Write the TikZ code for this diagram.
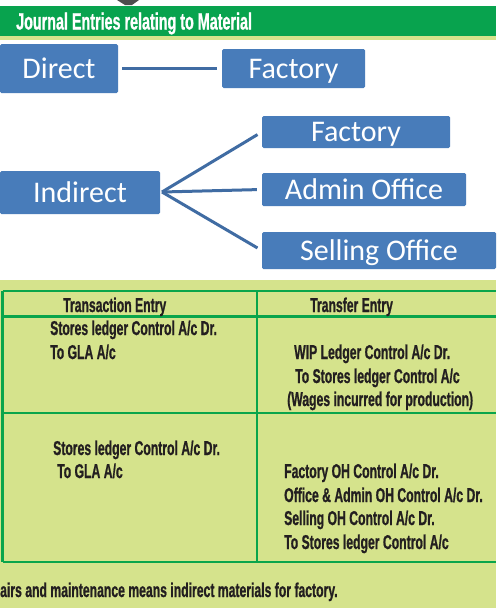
\documentclass[tikz,border=0pt]{standalone}
\usepackage{fontspec}
\newfontfamily\condfont[FakeStretch=0.61,FakeBold=0.8]{Liberation Sans}
\newfontfamily\calfont{Carlito}
\definecolor{barGreen}{RGB}{8,163,78}
\definecolor{lineGreen}{RGB}{10,165,75}
\definecolor{paleGreen}{RGB}{213,227,140}
\definecolor{boxBlue}{RGB}{72,124,186}
\definecolor{linkBlue}{RGB}{64,108,163}
\definecolor{inkDark}{RGB}{35,31,32}
\definecolor{arrowGray}{RGB}{77,77,77}
\tikzset{
  bbox/.style={rectangle, fill=boxBlue, rounded corners=1.5pt, inner sep=0pt, text=white,
    font=\calfont\fontsize{30}{30}\selectfont, text height=19.3pt, text depth=0pt},
  link/.style={draw=linkBlue, line width=3pt},
  tline/.style={draw=lineGreen, line width=2.5pt},
  ttext/.style={anchor=base west, inner sep=0pt, text=inkDark,
    font=\condfont\bfseries\fontsize{20}{20}\selectfont},
  title/.style={anchor=base west, inner sep=0pt, text=white,
    font=\condfont\bfseries\fontsize{23.5}{23.5}\selectfont}
}
\begin{document}
\begin{tikzpicture}[x=1pt,y=-1pt]
\useasboundingbox (0,0) rectangle (496,608);
% backgrounds
\fill[white] (0,0) rectangle (496,608);
\fill[arrowGray] (117,0) -- (139,0) -- (132,5) -- (125,5) -- cycle;
\fill[barGreen] (0,6) rectangle (496,36);
\fill[paleGreen] (0,36) rectangle (496,40);
\fill[paleGreen] (0,280) rectangle (496,608);
\node[title] (ttl) at (16,29.5) {Journal Entries relating to Material};
% diagram boxes
\node[bbox, minimum width=118pt, minimum height=49pt] (direct) at (59,68.5) {Direct};
\node[bbox, minimum width=143pt, minimum height=39pt] (fac1) at (293.5,68.5) {Factory};
\node[bbox, minimum width=160pt, minimum height=43pt] (indirect) at (80,192.5) {Indirect};
\node[bbox, minimum width=188pt, minimum height=32pt] (fac2) at (356,132) {Factory};
\node[bbox, minimum width=204pt, minimum height=33pt] (admin) at (364,189.5) {Admin Office};
\node[bbox, minimum width=234pt, minimum height=37pt] (sell) at (379,250.5) {Selling Office};
% connectors
\draw[link, shorten <=4pt, shorten >=5pt] (direct.east) -- (fac1.west);
\coordinate (hub) at (162,192);
\draw[link, shorten >=5pt] (hub) -- (fac2.west);
\draw[link, shorten >=5pt] (hub) -- (admin.west);
\draw[link, shorten >=5pt] (hub) -- (sell.west);
% table
\draw[tline] (2.5,291) -- (496,291);
\draw[tline] (2.5,316.5) -- (496,316.5);
\draw[tline] (2.5,413) -- (496,413);
\draw[tline] (2.5,562) -- (496,562);
\draw[tline] (2.5,291) -- (2.5,562);
\draw[tline] (257,291) -- (257,562);
\node[ttext] (h1) at (63,312) {Transaction Entry};
\node[ttext] (h2) at (310,312) {Transfer Entry};
\node[ttext] (a1) at (50,335) {Stores ledger Control A/c Dr.};
\node[ttext] (a2) at (50,359) {To GLA A/c};
\node[ttext] (b1) at (294,359) {WIP Ledger Control A/c Dr.};
\node[ttext] (b2) at (295,383) {To Stores ledger Control A/c};
\node[ttext] (b3) at (287,406) {(Wages incurred for production)};
\node[ttext] (c1) at (53,455) {Stores ledger Control A/c Dr.};
\node[ttext] (c2) at (57,478) {To GLA A/c};
\node[ttext] (d1) at (284,478) {Factory OH Control A/c Dr.};
\node[ttext] (d2) at (284,502) {Office \& Admin OH Control A/c Dr.};
\node[ttext] (d3) at (284,525) {Selling OH Control A/c Dr.};
\node[ttext] (d4) at (284,549) {To Stores ledger Control A/c};
\node[ttext] (foot) at (0,597) {airs and maintenance means indirect materials for factory.};
\end{tikzpicture}
\end{document}
